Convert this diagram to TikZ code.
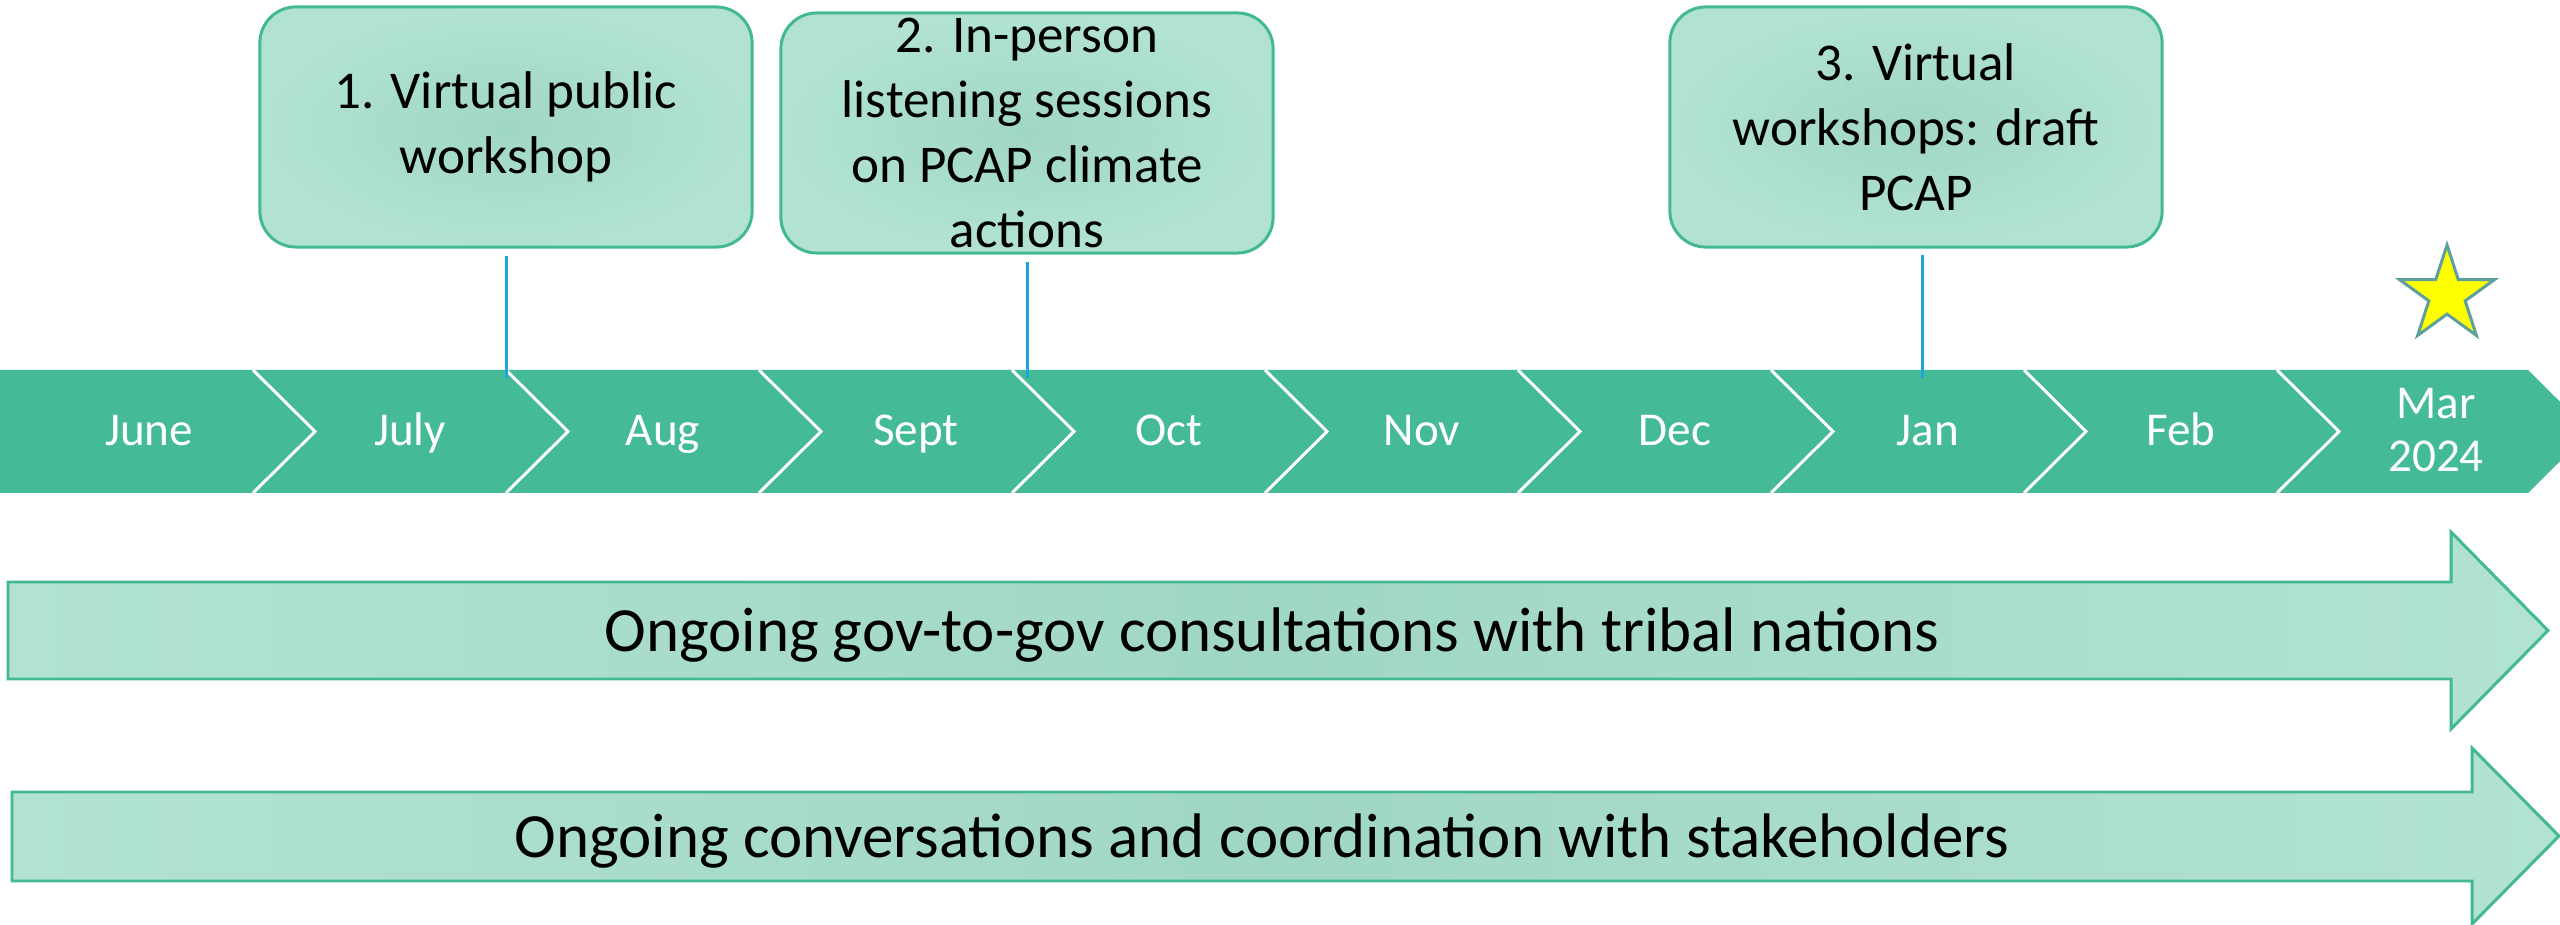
\documentclass[tikz,border=0pt]{standalone}
\usepackage{fontspec}
\setmainfont{Carlito}
\usetikzlibrary{shapes.geometric}
\definecolor{bandgreen}{RGB}{68,186,151}
\definecolor{edgegreen}{RGB}{67,184,148}
\definecolor{paleA}{RGB}{178,227,209}
\definecolor{paleB}{RGB}{160,215,196}
\definecolor{tickblue}{RGB}{29,165,224}
\definecolor{staredge}{RGB}{94,160,158}
\definecolor{staryellow}{RGB}{255,255,0}
\begin{document}
\begin{tikzpicture}[x=0.01cm,y=-0.01cm,
  evbox/.style={draw=edgegreen, line width=0.85pt, rounded corners=0.36cm,
    minimum width=4.92cm, minimum height=2.4cm, inner sep=0pt,
    inner color=paleB, outer color=paleA, align=center,
    font=\fontsize{15.1}{18.5}\selectfont},
  monthlbl/.style={text=white, font=\fontsize{13.4}{15}\selectfont, inner sep=0pt},
  seam/.style={draw=white, line width=0.85pt},
  tick/.style={draw=tickblue, line width=0.85pt},
  arrowshape/.style={draw=edgegreen, line width=0.85pt, left color=paleA, right color=paleA, middle color=paleB},
  arrowlbl/.style={font=\fontsize{17.9}{21}\selectfont, anchor=base, inner sep=0pt}]
\useasboundingbox (0,0) rectangle (2560,925);
\clip (0,0) rectangle (2560,925);

% timeline band
\fill[bandgreen] (0,370) -- (2528,370) -- (2590,431.5) -- (2528,493) -- (0,493) -- cycle;
\foreach \k in {1,...,9} {
  \draw[seam] (253*\k,370) -- (253*\k+62,431.5) -- (253*\k,493);
}
\node[monthlbl, anchor=base] (m1) at (149,446) {June};
\node[monthlbl, anchor=base] (m2) at (410,446) {July};
\node[monthlbl, anchor=base] (m3) at (663,446) {Aug};
\node[monthlbl, anchor=base] (m4) at (916,446) {Sept};
\node[monthlbl, anchor=base] (m5) at (1169,446) {Oct};
\node[monthlbl, anchor=base] (m6) at (1422,446) {Nov};
\node[monthlbl, anchor=base] (m7) at (1675,446) {Dec};
\node[monthlbl, anchor=base] (m8) at (1928,446) {Jan};
\node[monthlbl, anchor=base] (m9) at (2181,446) {Feb};
\node[monthlbl, align=center] (m10) at (2436,430) {Mar\\2024};

% event boxes
\node[evbox] (b1) at (506,127) {1. Virtual public\\workshop};
\node[evbox] (b2) at (1027,133) {2. In-person\\listening sessions\\on PCAP climate\\actions};
\node[evbox] (b3) at (1916,127) {3. Virtual\\workshops: draft\\PCAP};

% ticks
\coordinate (t1) at (506,378);
\coordinate (t2) at (1027,378);
\coordinate (t3) at (1922,378);
\draw[tick] (b1.south -| t1) ++(0,7) -- (t1);
\draw[tick] (b2.south -| t2) ++(0,7) -- (t2);
\draw[tick] (b3.south -| t3) ++(0,6) -- (t3);

% star
\node[star, star points=5, star point ratio=2.618, minimum size=1cm, inner sep=0pt,
  fill=staryellow, draw=staredge, line width=0.85pt] (goal) at (2447,295) {};

% ongoing arrows
\path[arrowshape] (8,582) -- (2451,582) -- (2451,532) -- (2548,630.5) -- (2451,729) -- (2451,679) -- (8,679) -- cycle;
\node[arrowlbl] (a1) at (1272,652) {Ongoing gov-to-gov consultations with tribal nations};
\path[arrowshape] (12,792) -- (2472,792) -- (2472,748) -- (2559,836) -- (2472,924) -- (2472,881) -- (12,881) -- cycle;
\node[arrowlbl] (a2) at (1262,858) {Ongoing conversations and coordination with stakeholders};
\end{tikzpicture}
\end{document}
